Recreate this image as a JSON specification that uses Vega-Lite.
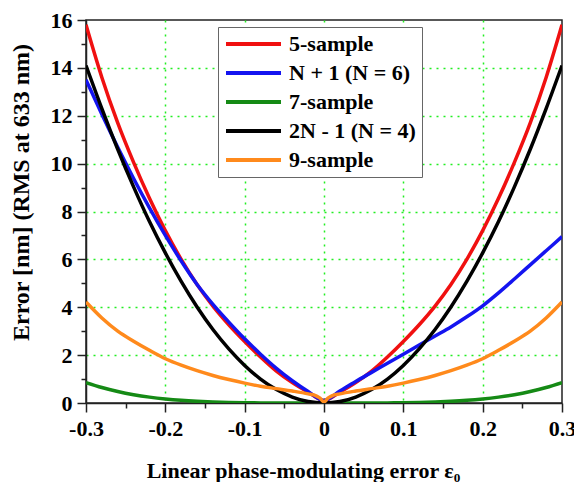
{
  "$schema": "https://vega.github.io/schema/vega-lite/v6.json",
  "width": 476,
  "height": 383,
  "autosize": {"type": "none"},
  "padding": {"left": 86, "top": 20, "right": 12, "bottom": 79},
  "background": "white",
  "config": {
    "font": "Liberation Serif",
    "view": {"stroke": "#222", "strokeWidth": 1.5},
    "axis": {
      "labelFont": "Liberation Serif",
      "labelFontSize": 22,
      "labelFontWeight": "bold",
      "labelColor": "#000",
      "titleFont": "Liberation Serif",
      "titleFontWeight": "bold",
      "titleColor": "#000",
      "domainColor": "#222",
      "domainWidth": 1.5,
      "tickColor": "#222",
      "tickWidth": 1.5,
      "gridColor": "#22ee22",
      "gridDash": [2, 5],
      "gridWidth": 1.5
    },
    "legend": {"labelFont": "Liberation Serif"}
  },
  "data": {
    "values": [
      {"x": -0.30, "r": 15.8, "b": 13.5, "g": 0.85, "k": 14.1, "o": 4.22},
      {"x": -0.28, "r": 13.6, "b": 12.06, "g": 0.645, "k": 12.3, "o": 3.55},
      {"x": -0.26, "r": 11.7, "b": 10.68, "g": 0.48, "k": 10.6, "o": 3.0},
      {"x": -0.24, "r": 10.05, "b": 9.38, "g": 0.348, "k": 9.03, "o": 2.58},
      {"x": -0.22, "r": 8.55, "b": 8.15, "g": 0.246, "k": 7.58, "o": 2.2},
      {"x": -0.20, "r": 7.2, "b": 7.0, "g": 0.168, "k": 6.27, "o": 1.85},
      {"x": -0.18, "r": 6.0, "b": 5.93, "g": 0.11, "k": 5.08, "o": 1.58},
      {"x": -0.16, "r": 4.95, "b": 4.95, "g": 0.069, "k": 4.01, "o": 1.35},
      {"x": -0.14, "r": 4.05, "b": 4.12, "g": 0.04, "k": 3.07, "o": 1.15},
      {"x": -0.12, "r": 3.27, "b": 3.38, "g": 0.022, "k": 2.26, "o": 0.98},
      {"x": -0.10, "r": 2.57, "b": 2.68, "g": 0.011, "k": 1.57, "o": 0.83},
      {"x": -0.08, "r": 1.92, "b": 2.04, "g": 0.004, "k": 1.0, "o": 0.7},
      {"x": -0.06, "r": 1.33, "b": 1.45, "g": 0.001, "k": 0.56, "o": 0.6},
      {"x": -0.04, "r": 0.85, "b": 0.93, "g": 0, "k": 0.25, "o": 0.5},
      {"x": -0.02, "r": 0.45, "b": 0.48, "g": 0, "k": 0.06, "o": 0.38},
      {"x": 0.00, "r": 0.1, "b": 0.1, "g": 0, "k": 0, "o": 0.05},
      {"x": 0.02, "r": 0.45, "b": 0.5, "g": 0, "k": 0.06, "o": 0.38},
      {"x": 0.04, "r": 0.85, "b": 0.9, "g": 0, "k": 0.25, "o": 0.5},
      {"x": 0.06, "r": 1.33, "b": 1.28, "g": 0.001, "k": 0.56, "o": 0.6},
      {"x": 0.08, "r": 1.92, "b": 1.66, "g": 0.004, "k": 1.0, "o": 0.7},
      {"x": 0.10, "r": 2.57, "b": 2.04, "g": 0.011, "k": 1.57, "o": 0.83},
      {"x": 0.12, "r": 3.27, "b": 2.42, "g": 0.022, "k": 2.26, "o": 0.98},
      {"x": 0.14, "r": 4.05, "b": 2.8, "g": 0.04, "k": 3.07, "o": 1.15},
      {"x": 0.16, "r": 4.95, "b": 3.18, "g": 0.069, "k": 4.01, "o": 1.35},
      {"x": 0.18, "r": 6.0, "b": 3.6, "g": 0.11, "k": 5.08, "o": 1.58},
      {"x": 0.20, "r": 7.2, "b": 4.06, "g": 0.168, "k": 6.27, "o": 1.85},
      {"x": 0.22, "r": 8.55, "b": 4.6, "g": 0.246, "k": 7.58, "o": 2.2},
      {"x": 0.24, "r": 10.05, "b": 5.18, "g": 0.348, "k": 9.03, "o": 2.58},
      {"x": 0.26, "r": 11.7, "b": 5.77, "g": 0.48, "k": 10.6, "o": 3.0},
      {"x": 0.28, "r": 13.6, "b": 6.36, "g": 0.645, "k": 12.3, "o": 3.55},
      {"x": 0.30, "r": 15.8, "b": 6.95, "g": 0.85, "k": 14.1, "o": 4.22},
      {"x": -0.01, "o": 0.3},
      {"x": -0.005, "o": 0.2},
      {"x": 0.005, "o": 0.2},
      {"x": 0.01, "o": 0.3}
    ]
  },
  "transform": [
    {"fold": ["r", "b", "g", "k", "o"], "as": ["series", "y"]},
    {"filter": "isValid(datum.y)"}
  ],
  "mark": {"type": "line", "strokeWidth": 3.5, "interpolate": "monotone", "clip": true},
  "encoding": {
    "x": {
      "field": "x",
      "type": "quantitative",
      "scale": {"domain": [-0.3, 0.3], "nice": false, "zero": false},
      "axis": {
        "title": "Linear phase-modulating error ε₀",
        "titleFontSize": 22,
        "titleX": 217,
        "titleY": 74,
        "titleBaseline": "alphabetic",
        "titleAlign": "center",
        "titleAnchor": null,
        "values": [-0.3, -0.25, -0.2, -0.15, -0.1, -0.05, 0, 0.05, 0.1, 0.15, 0.2, 0.25, 0.3],
        "labelExpr": "abs(round(datum.value*100)) % 10 == 0 ? ('' + round(datum.value*10)/10) : ''",
        "labelFont": "Liberation Serif",
        "labelPadding": 6,
        "labelFlush": false,
        "labelOverlap": false,
        "tickSize": {"condition": {"test": "abs(round(datum.value*100)) % 10 == 0", "value": 9}, "value": 5},
        "gridOpacity": {"condition": {"test": "abs(round(datum.value*100)) % 10 == 0 && abs(datum.value) < 0.29", "value": 1}, "value": 0}
      }
    },
    "y": {
      "field": "y",
      "type": "quantitative",
      "scale": {"domain": [0, 16], "nice": false},
      "axis": {
        "title": "Error [nm] (RMS at 633 nm)",
        "titleFontSize": 24,
        "titleX": -65,
        "titleY": 172,
        "titleAngle": -90,
        "titleBaseline": "middle",
        "titleAlign": "center",
        "titleAnchor": null,
        "values": [0,1,2,3,4,5,6,7,8,9,10,11,12,13,14,15,16],
        "labelExpr": "datum.value % 2 == 0 ? ('' + datum.value) : ''",
        "labelFont": "Liberation Serif",
        "labelPadding": 5,
        "labelOverlap": false,
        "labelFlush": false,
        "tickSize": {"condition": {"test": "datum.value % 2 == 0", "value": 9}, "value": 5},
        "gridOpacity": {"condition": {"test": "datum.value % 2 == 0 && datum.value > 0 && datum.value < 16", "value": 1}, "value": 0}
      }
    },
    "color": {
      "field": "series",
      "type": "nominal",
      "scale": {"domain": ["r", "b", "g", "k", "o"], "range": ["#f01010", "#1414f0", "#158a15", "#000000", "#ff8a1c"]},
      "legend": {
        "orient": "none",
        "legendX": 132,
        "legendY": 7,
        "title": null,
        "symbolType": "stroke",
        "symbolSize": 3025,
        "symbolStrokeWidth": 4,
        "labelFont": "Liberation Serif",
        "labelFontSize": 22,
        "labelFontWeight": "bold",
        "labelColor": "#000",
        "labelOffset": 6,
        "labelLimit": 300,
        "strokeColor": "#666",
        "fillColor": "#fff",
        "padding": 6,
        "rowPadding": 7,
        "clipHeight": 22,
        "labelExpr": "({'r':'5-sample','b':'N + 1 (N = 6)','g':'7-sample','k':'2N - 1 (N = 4)','o':'9-sample'})[datum.label]"
      }
    }
  }
}
